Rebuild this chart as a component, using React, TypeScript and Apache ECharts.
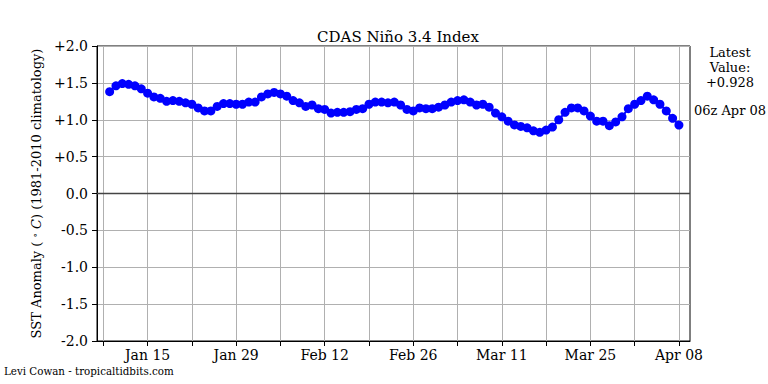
import React, { useEffect, useRef } from "react";
import * as echarts from "echarts";

// Day index: 0 = Jan 1. First observation is Jan 9 (day 8), last is Apr 08 (day 98).
const startDay = 8;
const anomalies = [
  1.38, 1.46, 1.49, 1.48, 1.46, 1.42, 1.36, 1.31, 1.29, 1.25, 1.26, 1.25, 1.23, 1.21,
  1.16, 1.12, 1.12, 1.18, 1.22, 1.22, 1.21, 1.21, 1.24, 1.24, 1.31, 1.35, 1.37, 1.35,
  1.32, 1.26, 1.23, 1.18, 1.20, 1.15, 1.14, 1.09, 1.10, 1.10, 1.11, 1.14, 1.15, 1.21,
  1.24, 1.24, 1.23, 1.24, 1.20, 1.14, 1.12, 1.16, 1.15, 1.15, 1.17, 1.20, 1.24, 1.26,
  1.27, 1.24, 1.20, 1.21, 1.17, 1.09, 1.04, 0.98, 0.93, 0.91, 0.89, 0.85, 0.83, 0.86,
  0.90, 1.00, 1.10, 1.16, 1.16, 1.12, 1.05, 0.98, 0.98, 0.92, 0.97, 1.04, 1.15, 1.21,
  1.26, 1.32, 1.27, 1.21, 1.12, 1.02, 0.928,
];
const tickDays = [7, 14, 21, 28, 35, 42, 49, 56, 63, 70, 77, 84, 91, 98];
const labelDays = [14, 28, 42, 56, 70, 84, 98];
const tickLabels = ["Jan 15", "Jan 29", "Feb 12", "Feb 26", "Mar 11", "Mar 25", "Apr 08"];
const latestText = "Latest\nValue:\n+0.928";
const latestTime = "06z Apr 08";
const titleText = "CDAS Niño 3.4 Index";
const creditText = "Levi Cowan - tropicaltidbits.com";

const FONT = "'DejaVu Serif', serif";

export default function App() {
  const ref = useRef<HTMLDivElement>(null);
  useEffect(() => {
    if (!ref.current) return;
    const chart = echarts.init(ref.current, null, { renderer: "svg" });
    const data = anomalies.map((v, i) => [startDay + i, v]);
    chart.setOption({
      animation: false,
      backgroundColor: "#ffffff",
      textStyle: { fontFamily: FONT },
      title: {
        text: titleText,
        left: 393,
        textAlign: "center",
        top: 24,
        textStyle: { fontFamily: FONT, fontSize: 15, fontWeight: "normal", color: "#000" },
      },
      grid: {
        left: 97,
        right: 78,
        top: 46,
        bottom: 43,
        show: true,
        borderColor: "#000",
        borderWidth: 1,
        backgroundColor: "transparent",
      },
      xAxis: {
        type: "value",
        min: 6,
        max: 99.75,
        axisLine: { show: true, onZero: false, lineStyle: { color: "#000", width: 1 } },
        axisTick: {
          show: true,
          inside: false,
          length: 5,
          customValues: tickDays,
          lineStyle: { color: "#000" },
        },
        axisLabel: {
          customValues: labelDays,
          fontFamily: FONT,
          fontSize: 14,
          color: "#000",
          margin: 7,
          formatter: (v: number) => {
            const idx = labelDays.indexOf(Math.round(v));
            return idx >= 0 ? tickLabels[idx] : "";
          },
        },
        splitLine: { show: true, lineStyle: { color: "#b0b0b0", width: 1 } },
      },
      yAxis: {
        type: "value",
        min: -2,
        max: 2,
        interval: 0.5,
        name: "SST Anomaly ( {sup|∘} {it|C}) (1981-2010 climatology)",
        nameLocation: "middle",
        nameGap: 53,
        nameRotate: 90,
        nameTextStyle: {
          fontFamily: FONT,
          fontSize: 13,
          color: "#000",
          rich: {
            sup: { fontFamily: FONT, fontSize: 9, color: "#000", verticalAlign: "top" },
            it: { fontFamily: FONT, fontSize: 13, fontStyle: "italic", color: "#000" },
          },
        },
        axisLine: { show: true, onZero: false, lineStyle: { color: "#000", width: 1 } },
        axisTick: { show: true, inside: false, length: 5, lineStyle: { color: "#000" } },
        axisLabel: {
          fontFamily: FONT,
          fontSize: 14,
          color: "#000",
          margin: 9,
          formatter: (v: number) => (v > 0 ? "+" + v.toFixed(1) : v.toFixed(1)),
        },
        splitLine: { show: true, lineStyle: { color: "#b0b0b0", width: 1 } },
      },
      series: [
        {
          type: "line",
          data,
          symbol: "circle",
          symbolSize: 9,
          showSymbol: true,
          itemStyle: { color: "#0000ff" },
          lineStyle: { color: "#0000ff", width: 2 },
          silent: true,
          markLine: {
            silent: true,
            symbol: "none",
            label: { show: false },
            lineStyle: { color: "#444", width: 1.3, type: "solid" },
            data: [{ yAxis: 0 }],
            z: 1,
          },
          z: 3,
        },
      ],
      graphic: [
        {
          type: "text",
          x: 730,
          y: 45,
          style: {
            text: latestText,
            fontFamily: FONT,
            fontSize: 13,
            lineHeight: 15,
            fill: "#000",
            align: "center",
          },
        },
        {
          type: "text",
          x: 730,
          y: 104,
          style: {
            text: latestTime,
            fontFamily: FONT,
            fontSize: 13,
            fill: "#000",
            align: "center",
          },
        },
        {
          type: "text",
          x: 4,
          y: 366,
          style: {
            text: creditText,
            fontFamily: FONT,
            fontSize: 10.3,
            fill: "#000",
          },
        },
      ],
    });
    return () => chart.dispose();
  }, []);
  return <div ref={ref} style={{ width: 768, height: 384, position: "absolute", left: 0, top: 0 }} />;
}
